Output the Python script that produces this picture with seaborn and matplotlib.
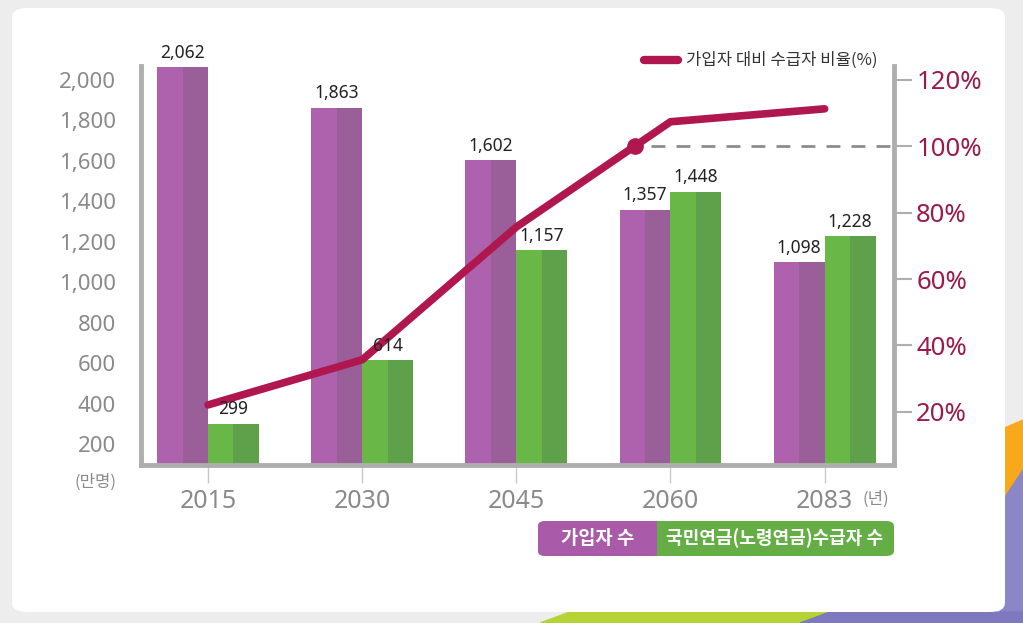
import numpy as np
import pandas as pd
import matplotlib
matplotlib.use("Agg")
import matplotlib.pyplot as plt
from matplotlib.patches import FancyBboxPatch, Rectangle, Polygon
from matplotlib.lines import Line2D
import seaborn as sns

# ---- data ----
years = ["2015", "2030", "2045", "2060", "2083"]
subscribers = [2062, 1863, 1602, 1357, 1098]
recipients = [299, 614, 1157, 1448, 1228]
ratio = [22.1, 35.7, 75.7, 107.4, 111.3]
left_ticks = [200, 400, 600, 800, 1000, 1200, 1400, 1600, 1800, 2000]
right_ticks = [20, 40, 60, 80, 100, 120]
series_names = ["가입자 수", "국민연금(노령연금)수급자 수"]
line_name = "가입자 대비 수급자 비율(%)"

sns.set_theme(style="white")
plt.rcParams["font.family"] = ["Noto Sans", "Noto Sans CJK KR", "DejaVu Sans"]
KR = ["Noto Sans CJK KR", "DejaVu Sans"]

W, H = 1023, 623
fig = plt.figure(figsize=(W / 100, H / 100), dpi=100, facecolor="#EDEDED")

def fx(px):
    return px / W

def fy(py):
    return 1 - py / H

# background card and decorations
fig.patches.append(Polygon([[fx(1000), fy(430)], [fx(1023), fy(420)], [fx(1023), fy(470)], [fx(1000), fy(505)]],
                           closed=True, transform=fig.transFigure, color="#F7A81B", zorder=-3))
fig.patches.append(Polygon([[fx(1000), fy(505)], [fx(1023), fy(470)], [fx(1023), fy(623)], [fx(1000), fy(623)]],
                           closed=True, transform=fig.transFigure, color="#8B86C8", zorder=-3))
fig.patches.append(Polygon([[fx(540), fy(623)], [fx(570), fy(612)], [fx(830), fy(612)], [fx(800), fy(623)]],
                           closed=True, transform=fig.transFigure, color="#B5D334", zorder=-3))
fig.patches.append(Polygon([[fx(800), fy(623)], [fx(830), fy(612)], [fx(1023), fy(612)], [fx(1023), fy(623)]],
                           closed=True, transform=fig.transFigure, color="#7D78C0", zorder=-3))
fig.patches.append(FancyBboxPatch((fx(12), fy(612)), fx(1005 - 12), (612 - 8) / H,
                                  boxstyle="round,pad=0,rounding_size=0.015",
                                  transform=fig.transFigure, facecolor="white", edgecolor="none", zorder=-2))

ax = fig.add_axes([fx(141), fy(465), fx(894 - 141), (465 - 66) / H])
ax.set_facecolor("none")

df = pd.DataFrame({
    "year": years * 2,
    "value": subscribers + recipients,
    "series": [series_names[0]] * len(years) + [series_names[1]] * len(years),
})
light = ["#AE62AE", "#69B746"]
dark = ["#9A5E98", "#5FA04B"]
sns.barplot(data=df, x="year", y="value", hue="series", hue_order=series_names,
            palette=light, width=0.66, gap=0, dodge=True, legend=False, ax=ax,
            saturation=1, edgecolor="none", linewidth=0, zorder=2)

ax.set_xlim(-0.435, 4.45)
ax.set_ylim(96, 2069)
ax.set_yticks(left_ticks)
ax.set_yticklabels([f"{t:,}" for t in left_ticks])
ax.set_xlabel("")
ax.set_ylabel("")
ax.tick_params(axis="y", length=0, pad=18, labelsize=16, labelcolor="#8A8A8A")
ax.tick_params(axis="x", length=13, width=1, color="#C8C8C8", direction="out", pad=4,
               labelsize=18, labelcolor="#8A8A8A", bottom=True)
for s in ["left", "bottom", "right"]:
    ax.spines[s].set_color("#AEAEAE")
    ax.spines[s].set_linewidth(3.5)
ax.spines["top"].set_visible(False)
ax.spines["right"].set_visible(False)

# ratio line on secondary axis
ax2 = ax.twinx()
xpos = np.arange(len(years))
sns.lineplot(x=xpos, y=ratio, ax=ax2, color="#B0174F", linewidth=5.5, zorder=4)
for ln in ax2.lines:
    ln.set_solid_capstyle("round")
    ln.set_solid_joinstyle("round")
x_cross = np.interp(100, ratio, xpos)
ax2.plot([x_cross], [100], marker="o", markersize=11, color="#B0174F", zorder=4)
ax2.hlines(100, x_cross + 0.11, 4.45, colors="#8C8C8C", linestyles=(0, (5, 4)), linewidth=2, zorder=1)
ax2.set_ylim(4.0, 124.2)
ax2.set_xlim(-0.435, 4.45)
ax2.set_yticks(right_ticks)
ax2.set_yticklabels([f"{t}%" for t in right_ticks])
ax2.tick_params(axis="y", length=13, width=1.5, color="#AEAEAE", direction="out", pad=3,
                labelsize=18.5, labelcolor="#9C1A4A", right=True)
for lbl in ax2.get_yticklabels():
    lbl.set_fontweight("semibold")
for s in ["left", "top", "bottom"]:
    ax2.spines[s].set_visible(False)
ax2.spines["right"].set_color("#AEAEAE")
ax2.spines["right"].set_linewidth(3.5)
ax2.set_ylabel("")

# two-tone bars and value labels (labels drawn above the line layer)
bars = [p for p in ax.patches if isinstance(p, Rectangle)]
for p in bars:
    x, w, h, b = p.get_x(), p.get_width(), p.get_height(), p.get_y()
    fc = p.get_facecolor()
    idx = 0 if abs(fc[0] - matplotlib.colors.to_rgba(light[0])[0]) < 0.05 else 1
    ax.add_patch(Rectangle((x + w / 2, b), w / 2, h, facecolor=dark[idx], edgecolor="none", zorder=2.1))
    ax2.annotate(f"{int(round(h)):,}", (x + w / 2, h), xycoords=ax.transData,
                 xytext=(0, 4), textcoords="offset points",
                 ha="center", va="bottom", fontsize=12.5, color="#222222", zorder=6)

# unit labels
fig.text(fx(96), fy(482), "(만명)", ha="center", va="center", fontsize=12, color="#8A8A8A", family=KR)
fig.text(fx(863), fy(499), "(년)", ha="left", va="center", fontsize=12, color="#8A8A8A", family=KR)

# top legend
fig.lines.append(Line2D([fx(644), fx(678)], [fy(60), fy(60)], transform=fig.transFigure,
                        color="#B0174F", linewidth=6, solid_capstyle="round"))
fig.text(fx(686), fy(60), line_name, ha="left", va="center", fontsize=12, color="#333333", family=KR)

# bottom legend box
fig.patches.append(FancyBboxPatch((fx(538), fy(556)), fx(894 - 538), (556 - 521) / H,
                                  boxstyle="round,pad=0,rounding_size=0.008", transform=fig.transFigure,
                                  facecolor="#65AE45", edgecolor="none", zorder=3))
fig.patches.append(FancyBboxPatch((fx(538), fy(556)), fx(657 - 538), (556 - 521) / H,
                                  boxstyle="round,pad=0,rounding_size=0.008", transform=fig.transFigure,
                                  facecolor="#A95BAA", edgecolor="none", zorder=3.1))
fig.patches.append(Rectangle((fx(640), fy(556)), fx(17), (556 - 521) / H, transform=fig.transFigure,
                             facecolor="#A95BAA", edgecolor="none", zorder=3.2))
fig.text(fx(598), fy(538), series_names[0], ha="center", va="center", fontsize=13.5,
         color="white", fontweight="bold", zorder=4, family=KR)
fig.text(fx(775), fy(538), series_names[1], ha="center", va="center", fontsize=13,
         color="white", fontweight="bold", zorder=4, family=KR)

fig.savefig("out.png", dpi=100, facecolor=fig.get_facecolor())
